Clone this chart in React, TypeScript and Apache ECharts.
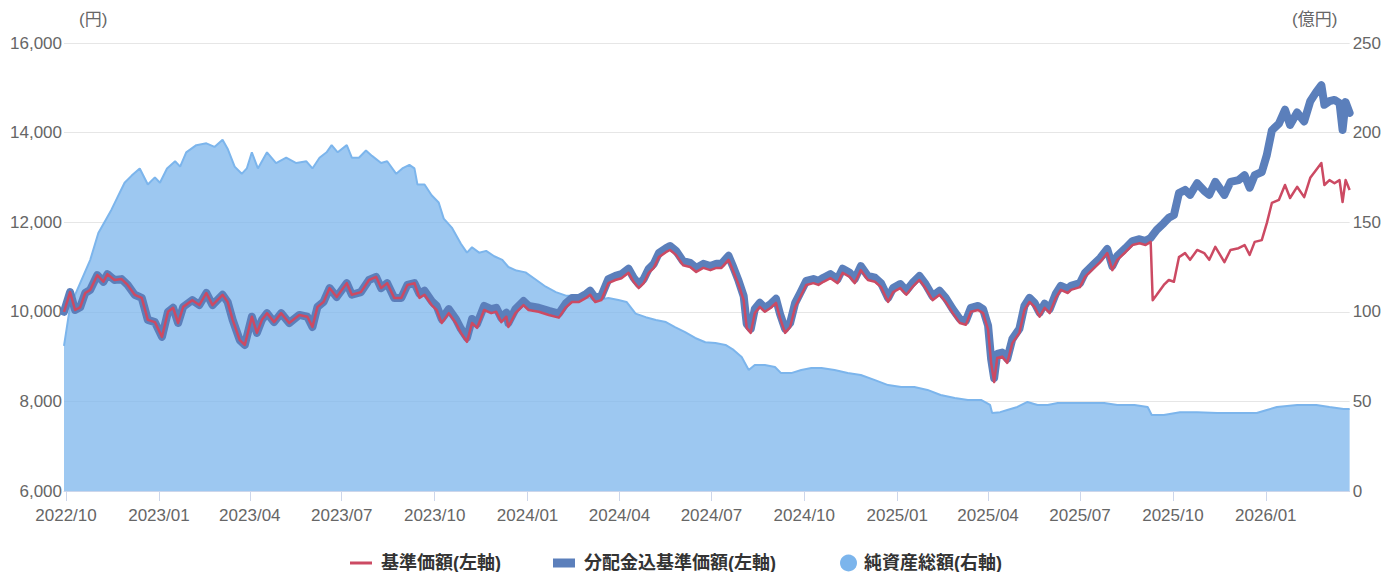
import React, { useEffect, useRef } from "react";
import * as echarts from "echarts";

const START_DATE = "2022-09-29";
const END_DATE = "2026-03-25";

const xTickMonths = ["01", "04", "07", "10"];
const leftAxisName = "(円)";
const rightAxisName = "(億円)";
const seriesNames = ["基準価額(左軸)", "分配金込基準価額(左軸)", "純資産総額(右軸)"];

const priceDates = [
  "2022-09-29","2022-10-05","2022-10-10","2022-10-15","2022-10-20","2022-10-25","2022-11-01","2022-11-07","2022-11-11","2022-11-18",
  "2022-11-25","2022-12-01","2022-12-08","2022-12-15","2022-12-21","2022-12-28","2023-01-04","2023-01-10","2023-01-15","2023-01-20",
  "2023-01-25","2023-02-03","2023-02-10","2023-02-17","2023-02-23","2023-03-05","2023-03-10","2023-03-15","2023-03-22","2023-03-27",
  "2023-04-03","2023-04-08","2023-04-13","2023-04-18","2023-04-25","2023-05-02","2023-05-10","2023-05-20","2023-05-28","2023-06-02",
  "2023-06-07","2023-06-13","2023-06-19","2023-06-26","2023-07-06","2023-07-11","2023-07-20","2023-07-28","2023-08-04","2023-08-09",
  "2023-08-15","2023-08-22","2023-08-29","2023-09-04","2023-09-11","2023-09-16","2023-09-21","2023-09-28","2023-10-03","2023-10-08",
  "2023-10-15","2023-10-22","2023-10-27","2023-11-02","2023-11-07","2023-11-12","2023-11-19","2023-11-26","2023-12-01","2023-12-06",
  "2023-12-11","2023-12-13","2023-12-20","2023-12-28","2024-01-02","2024-01-12","2024-01-22","2024-02-01","2024-02-08","2024-02-14",
  "2024-02-21","2024-02-28","2024-03-03","2024-03-08","2024-03-14","2024-03-21","2024-03-28","2024-04-03","2024-04-10","2024-04-15",
  "2024-04-20","2024-04-25","2024-04-30","2024-05-05","2024-05-10","2024-05-17","2024-05-21","2024-05-27","2024-06-03","2024-06-10",
  "2024-06-16","2024-06-23","2024-06-30","2024-07-06","2024-07-11","2024-07-18","2024-07-23","2024-07-28","2024-08-02","2024-08-05",
  "2024-08-09","2024-08-13","2024-08-18","2024-08-23","2024-08-29","2024-09-03","2024-09-07","2024-09-12","2024-09-17","2024-09-22",
  "2024-09-27","2024-10-03","2024-10-10","2024-10-15","2024-10-20","2024-10-27","2024-11-03","2024-11-08","2024-11-15","2024-11-20",
  "2024-11-26","2024-12-03","2024-12-10","2024-12-16","2024-12-23","2024-12-28","2025-01-04","2025-01-10","2025-01-16","2025-01-23",
  "2025-01-29","2025-02-05","2025-02-12","2025-02-18","2025-02-25","2025-03-04","2025-03-10","2025-03-15","2025-03-22","2025-03-27",
  "2025-04-01","2025-04-04","2025-04-07","2025-04-10","2025-04-15","2025-04-20","2025-04-25","2025-05-02","2025-05-07","2025-05-12",
  "2025-05-17","2025-05-22","2025-05-27","2025-06-01","2025-06-07","2025-06-12","2025-06-19","2025-06-22","2025-07-01","2025-07-06",
  "2025-07-15","2025-07-21","2025-07-28","2025-08-02","2025-08-07","2025-08-15","2025-08-22","2025-08-29","2025-09-04","2025-09-09",
  "2025-09-11","2025-09-15","2025-09-22","2025-09-27","2025-10-02","2025-10-07","2025-10-13","2025-10-18","2025-10-25","2025-11-01",
  "2025-11-06","2025-11-12","2025-11-21","2025-11-27","2025-12-05","2025-12-11","2025-12-16","2025-12-21","2025-12-28","2026-01-02",
  "2026-01-07","2026-01-14","2026-01-20","2026-01-25","2026-02-01","2026-02-08","2026-02-14","2026-02-20","2026-02-25","2026-02-28",
  "2026-03-05","2026-03-10","2026-03-15","2026-03-18","2026-03-21","2026-03-25"
];

const navValues = [
  10000,10440,10040,10100,10420,10490,10820,10670,10840,10710,
  10730,10600,10380,10310,9820,9770,9440,10000,10090,9750,
  10110,10260,10150,10420,10150,10380,10220,9820,9370,9260,
  9890,9530,9820,9970,9770,9970,9750,9930,9890,9660,
  10110,10220,10530,10330,10640,10380,10440,10710,10780,10530,
  10640,10310,10310,10600,10640,10310,10380,10150,10040,9750,
  9970,9750,9530,9330,9750,9640,10040,9970,10000,9770,
  9890,9660,9970,10150,10040,10000,9930,9870,10100,10220,
  10220,10310,10380,10220,10260,10640,10710,10750,10870,10670,
  10530,10640,10870,10980,11220,11330,11380,11270,11040,11000,
  10890,10980,10930,10980,10980,11160,10890,10600,10260,9640,
  9530,9970,10110,10000,10090,10200,9860,9530,9660,10110,
  10330,10600,10640,10600,10670,10750,10640,10870,10780,10640,
  10930,10710,10670,10550,10220,10440,10530,10380,10550,10710,
  10530,10260,10380,10220,9970,9750,9710,10000,10040,9970,
  9600,8860,8430,8970,9000,8860,9300,9530,10040,10220,
  10110,9890,10090,9970,10310,10490,10420,10490,10550,10780,
  10980,11110,11310,10930,11160,11330,11490,11530,11490,11560,
  10260,10380,10600,10710,10670,11220,11310,11160,11380,11310,
  11160,11450,11110,11380,11420,11490,11270,11560,11600,11980,
  12430,12500,12830,12540,12790,12560,12990,13170,13320,12830,
  12940,12870,12940,12450,12940,12720
];

const navWithDivValues = [
  10000,10440,10040,10100,10420,10490,10820,10670,10840,10710,
  10730,10600,10380,10310,9820,9770,9440,10000,10090,9750,
  10110,10260,10150,10420,10150,10380,10220,9820,9370,9260,
  9890,9530,9820,9970,9770,9970,9750,9930,9890,9660,
  10110,10220,10530,10330,10640,10380,10440,10710,10780,10530,
  10640,10310,10310,10600,10640,10400,10470,10240,10130,9840,
  10060,9840,9620,9420,9840,9730,10130,10060,10090,9860,
  9980,9750,10060,10240,10130,10090,10020,9960,10190,10310,
  10310,10400,10470,10310,10350,10730,10800,10840,10960,10760,
  10620,10730,10960,11070,11310,11420,11470,11360,11130,11090,
  10980,11070,11020,11070,11070,11250,10980,10690,10350,9730,
  9620,10060,10200,10090,10180,10290,9950,9620,9750,10200,
  10420,10690,10730,10690,10760,10840,10730,10960,10870,10730,
  11020,10800,10760,10640,10310,10530,10620,10470,10640,10800,
  10620,10350,10470,10310,10060,9840,9800,10090,10130,10060,
  9690,8950,8520,9060,9090,8950,9390,9620,10130,10310,
  10200,9980,10180,10060,10400,10580,10510,10580,10640,10870,
  11070,11200,11400,11020,11250,11420,11580,11620,11580,11650,
  11710,11830,11980,12100,12160,12650,12720,12610,12870,12700,
  12610,12900,12610,12900,12940,13050,12770,13050,13120,13500,
  14050,14200,14510,14170,14450,14250,14700,14910,15060,14620,
  14700,14730,14660,14060,14680,14440
];

const assetDates = [
  "2022-09-29","2022-10-05","2022-10-15","2022-10-25","2022-11-02","2022-11-09","2022-11-15","2022-11-21","2022-11-28","2022-12-05",
  "2022-12-13","2022-12-21","2022-12-28","2023-01-02","2023-01-09","2023-01-17","2023-01-22","2023-01-28","2023-02-07","2023-02-17",
  "2023-02-25","2023-03-05","2023-03-10","2023-03-17","2023-03-24","2023-03-29","2023-04-03","2023-04-09","2023-04-18","2023-04-27",
  "2023-05-07","2023-05-17","2023-05-27","2023-06-02","2023-06-09","2023-06-16","2023-06-21","2023-06-27","2023-07-06","2023-07-11",
  "2023-07-18","2023-07-25","2023-07-31","2023-08-09","2023-08-15","2023-08-24","2023-08-30","2023-09-06","2023-09-11","2023-09-14",
  "2023-09-21","2023-09-28","2023-10-05","2023-10-10","2023-10-18","2023-10-27","2023-11-02","2023-11-07","2023-11-14","2023-11-21",
  "2023-11-29","2023-12-07","2023-12-13","2023-12-21","2023-12-30","2024-01-09","2024-01-19","2024-01-29","2024-02-08","2024-02-14",
  "2024-02-28","2024-03-11","2024-03-21","2024-03-31","2024-04-08","2024-04-17","2024-04-27","2024-05-07","2024-05-17","2024-05-26",
  "2024-06-05","2024-06-15","2024-06-25","2024-07-05","2024-07-15","2024-07-23","2024-07-31","2024-08-07","2024-08-13","2024-08-23",
  "2024-09-02","2024-09-08","2024-09-18","2024-09-28","2024-10-08","2024-10-18","2024-10-31","2024-11-13","2024-11-26","2024-12-10",
  "2024-12-23","2025-01-05","2025-01-18","2025-01-31","2025-02-13","2025-02-27","2025-03-12","2025-03-25","2025-04-03","2025-04-05",
  "2025-04-13","2025-04-20","2025-04-30","2025-05-10","2025-05-20","2025-05-30","2025-06-09","2025-07-05","2025-07-25","2025-08-07",
  "2025-08-24","2025-09-06","2025-09-10","2025-09-22","2025-10-08","2025-10-25","2025-11-14","2025-12-03","2025-12-23","2026-01-02",
  "2026-01-12","2026-02-01","2026-02-20","2026-03-05","2026-03-19","2026-03-25"
];

const assetValues = [
  81,103,116,129,144,151,157,164,172,176,
  180,171,175,172,180,184,181,189,193,194,
  192,196,191,181,177,180,189,180,189,183,
  186,183,184,180,186,189,193,189,193,186,
  186,190,187,183,184,177,180,182,180,171,
  171,165,161,152,147,138,133,136,133,134,
  131,129,125,123,122,118,114,111,109,109,
  108,106.6,107.7,106.6,105.5,99,97,95.4,94.3,91.5,
  88.7,85.4,83,82.6,81.5,78.7,74.8,67.5,70.3,70.3,
  69.2,65.8,65.8,67.5,68.6,68.6,67.5,65.8,64.7,61.9,
  59.1,58,58,56.4,53.6,51.9,50.8,50.8,48,43.5,
  44,45.2,46.9,49.7,48,48,49.1,49.1,49.1,48,
  48,46.9,42.4,42.4,44,44,43.5,43.5,43.5,45.2,
  46.9,48,48,46.9,45.8,45.8
];

function buildDayCategories(start: string, end: string): string[] {
  const out: string[] = [];
  const d = new Date(start + "T00:00:00Z");
  const e = new Date(end + "T00:00:00Z");
  while (d.getTime() <= e.getTime()) {
    out.push(d.toISOString().slice(0, 10));
    d.setUTCDate(d.getUTCDate() + 1);
  }
  return out;
}

const FONT = "'Liberation Sans', 'Noto Sans CJK JP', sans-serif";

export default function App() {
  const ref = useRef<HTMLDivElement>(null);

  useEffect(() => {
    if (!ref.current) return;
    const chart = echarts.init(ref.current, undefined, { renderer: "svg" });
    const categories = buildDayCategories(START_DATE, END_DATE);
    const isQuarterStart = (_i: number, v: string) =>
      typeof v === "string" && v.slice(8, 10) === "01" && xTickMonths.includes(v.slice(5, 7));

    const redData = priceDates.map((d, i) => [d, navValues[i]]);
    const blueData = priceDates.map((d, i) => [d, navWithDivValues[i]]);
    const areaData = assetDates.map((d, i) => [d, assetValues[i]]);

    chart.setOption({
      animation: false,
      textStyle: { fontFamily: FONT },
      grid: { left: 64, right: 30, top: 43, bottom: 81, containLabel: false },
      xAxis: {
        type: "category",
        data: categories,
        boundaryGap: false,
        axisLine: { lineStyle: { color: "#ccd6eb", width: 1 } },
        axisTick: { show: true, interval: isQuarterStart, length: 10, lineStyle: { color: "#ccd6eb" } },
        axisLabel: {
          interval: isQuarterStart,
          hideOverlap: false,
          formatter: (v: string) => v.slice(0, 4) + "/" + v.slice(5, 7),
          color: "#666666",
          fontSize: 17,
          fontFamily: FONT,
          margin: 16,
        },
        splitLine: { show: false },
      },
      yAxis: [
        {
          type: "value",
          min: 6000,
          max: 16000,
          interval: 2000,
          axisLine: { show: false },
          axisTick: { show: false },
          axisLabel: { color: "#666666", fontSize: 17, fontFamily: FONT, margin: 2 },
          splitLine: { lineStyle: { color: "#e6e6e6", width: 1 } },
        },
        {
          type: "value",
          min: 0,
          max: 250,
          interval: 50,
          position: "right",
          axisLine: { show: false },
          axisTick: { show: false },
          axisLabel: { color: "#666666", fontSize: 17, fontFamily: FONT, margin: 3 },
          splitLine: { show: false },
        },
      ],
      legend: [
        {
          data: [seriesNames[0]],
          left: 350,
          top: 554,
          padding: 0,
          icon: "rect",
          itemWidth: 22,
          itemHeight: 3,
          itemGap: 0,
          itemStyle: { borderWidth: 0 },
          textStyle: { color: "#333333", fontSize: 18, fontWeight: "bold", fontFamily: FONT, padding: [0, 0, 0, 4] },
        },
        {
          data: [seriesNames[1]],
          left: 553,
          top: 554,
          padding: 0,
          icon: "rect",
          itemWidth: 22,
          itemHeight: 9,
          itemStyle: { borderWidth: 0 },
          textStyle: { color: "#333333", fontSize: 18, fontWeight: "bold", fontFamily: FONT, padding: [0, 0, 0, 4] },
        },
        {
          data: [seriesNames[2]],
          left: 840,
          top: 554,
          padding: 0,
          icon: "circle",
          itemWidth: 17,
          itemHeight: 17,
          itemStyle: { borderWidth: 0 },
          textStyle: { color: "#333333", fontSize: 18, fontWeight: "bold", fontFamily: FONT, padding: [0, 0, 0, 2] },
        },
      ],
      graphic: [
        {
          type: "text",
          left: 79,
          top: 11,
          style: { text: leftAxisName, fill: "#666666", fontSize: 17, fontFamily: FONT },
        },
        {
          type: "text",
          left: 1292,
          top: 11,
          style: { text: rightAxisName, fill: "#666666", fontSize: 17, fontFamily: FONT },
        },
      ],
      series: [
        {
          name: seriesNames[2],
          type: "line",
          yAxisIndex: 1,
          data: areaData,
          showSymbol: false,
          color: "#7cb5ec",
          lineStyle: { color: "#7cb5ec", width: 2 },
          areaStyle: { color: "#7cb5ec", opacity: 0.75 },
          z: 1,
        },
        {
          name: seriesNames[1],
          type: "line",
          yAxisIndex: 0,
          data: blueData,
          showSymbol: false,
          color: "#5b7fbb",
          lineStyle: { color: "#5b7fbb", width: 8, join: "round", cap: "round" },
          z: 2,
        },
        {
          name: seriesNames[0],
          type: "line",
          yAxisIndex: 0,
          data: redData,
          showSymbol: false,
          color: "#cc4a63",
          lineStyle: { color: "#cc4a63", width: 2.5, join: "round" },
          z: 3,
        },
      ],
    });

    return () => chart.dispose();
  }, []);

  return (
    <div
      ref={ref}
      style={{ position: "fixed", left: 0, top: 0, width: 1384, height: 572, background: "#ffffff" }}
    />
  );
}
